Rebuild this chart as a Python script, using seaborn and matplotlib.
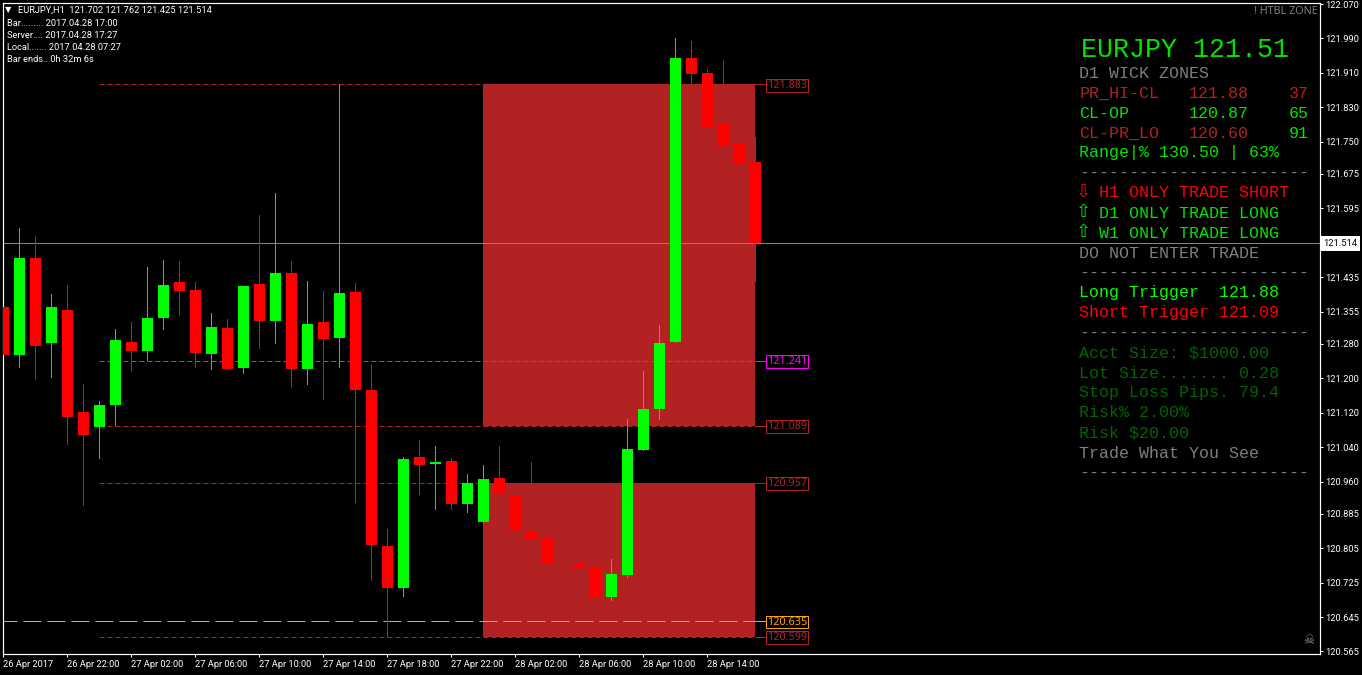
import matplotlib
matplotlib.use("Agg")
import matplotlib.pyplot as plt
import pandas as pd
import numpy as np
import seaborn as sns

opens = [121.366,121.254,121.480,121.282,121.359,121.122,121.087,121.138,121.284,121.263,
         121.340,121.424,121.405,121.256,121.317,121.224,121.419,121.333,121.445,121.222,
         121.331,121.294,121.401,121.173,120.810,120.712,121.017,121.001,121.008,120.908,
         120.866,120.968,120.926,120.845,120.829,120.771,120.768,120.761,120.692,120.743,
         121.033,121.129,121.284,121.945,121.910,121.791,121.745,121.702]
highs = [121.540,121.549,121.531,121.396,121.417,121.187,121.147,121.315,121.331,121.459,
         121.475,121.473,121.424,121.352,121.338,121.415,121.580,121.631,121.473,121.426,
         121.403,121.883,121.421,121.233,120.850,121.017,121.057,121.043,121.015,120.978,
         120.998,121.043,120.926,121.005,120.871,120.847,120.878,120.808,120.780,121.105,
         121.217,121.324,121.991,121.984,121.919,121.940,121.805,121.762]
lows = [121.124,121.226,121.198,121.203,121.047,120.905,121.015,121.091,121.217,121.242,
        121.315,121.347,121.226,121.222,121.222,121.212,121.270,121.282,121.180,121.187,
        121.152,121.226,120.912,120.731,120.599,120.694,120.931,120.896,120.896,120.889,
        120.866,120.931,120.759,120.752,120.687,120.747,120.740,120.692,120.685,120.738,
        121.033,121.105,121.284,121.840,121.693,121.687,121.612,121.425]
closes = [121.254,121.480,121.275,121.366,121.110,121.068,121.138,121.289,121.263,121.340,
          121.417,121.403,121.259,121.319,121.222,121.415,121.333,121.445,121.222,121.326,
          121.291,121.398,121.173,120.812,120.712,121.012,120.998,121.005,120.908,120.957,
          120.966,120.931,120.847,120.826,120.771,120.768,120.759,120.692,120.745,121.036,
          121.129,121.282,121.945,121.907,121.784,121.742,121.700,121.514]

price_ticks = [122.070,121.990,121.910,121.830,121.750,121.675,121.595,121.435,121.355,121.280,
               121.200,121.120,121.040,120.960,120.885,120.805,120.725,120.645,120.565]
time_ticks = [0,4,8,12,16,20,24,28,32,36,40,44]
time_labels = ["26 Apr 2017","26 Apr 22:00","27 Apr 02:00","27 Apr 06:00","27 Apr 10:00",
               "27 Apr 14:00","27 Apr 18:00","27 Apr 22:00","28 Apr 02:00","28 Apr 06:00",
               "28 Apr 10:00","28 Apr 14:00"]

zones = [(121.089,121.883),(120.599,120.957)]
level_prices = [121.883,121.241,121.089,120.957,120.635,120.599]
level_colors = ["#B22222","#FF00FF","#B22222","#B22222","#FFA500","#B22222"]

info_lines = ["Bar......... 2017.04.28 17:00","Server.... 2017.04.28 17:27",
              "Local....... 2017.04.28 07:27","Bar ends.. 0h 32m 6s"]

GRAY = "#7a7f85"
GREEN = "#00E400"
LIME = "#00FF00"
DARK = "#006400"
BRICK = "#B22222"
RED = "#FF0000"
DASHES = "-" * 23
# text, x pixel, colour - one row every 20 px
panel_rows = [("D1 WICK ZONES",1079,GRAY),("PR_HI-CL",1080,BRICK),("CL-OP",1079,GREEN),
              ("CL-PR_LO",1079,BRICK),("Range|% 130.50 | 63%",1079,GREEN),(DASHES,1079,GRAY),
              ("H1 ONLY TRADE SHORT",1099,RED),("D1 ONLY TRADE LONG",1099,GREEN),
              ("W1 ONLY TRADE LONG",1099,GREEN),("DO NOT ENTER TRADE",1079,GRAY),(DASHES,1079,GRAY),
              ("Long Trigger  121.88",1079,LIME),("Short Trigger 121.09",1079,RED),(DASHES,1079,GRAY),
              ("Acct Size: $1000.00",1079,DARK),("Lot Size....... 0.28",1079,DARK),
              ("Stop Loss Pips. 79.4",1079,DARK),("Risk% 2.00%",1079,DARK),("Risk $20.00",1079,DARK),
              ("Trade What You See",1079,GRAY),(DASHES,1079,GRAY)]
zone_cols = [("121.88","37",BRICK,"#D81010"),("120.87","65",GREEN,GREEN),("120.60","91",BRICK,GREEN)]

W, H = 1362, 675
sns.set_theme(style="dark", rc={"figure.facecolor":"black","axes.facecolor":"black",
                                "axes.edgecolor":"white","axes.grid":False,
                                "text.color":"white","xtick.color":"white","ytick.color":"white"})
plt.rcParams["font.family"] = ["Roboto","DejaVu Sans"]

df = pd.DataFrame({"bar":np.arange(len(opens)),"open":opens,"high":highs,"low":lows,"close":closes})
df["dir"] = np.where(df["close"] >= df["open"], "up", "down")
df["top"] = df[["open","close"]].max(axis=1)
df["bot"] = df[["open","close"]].min(axis=1)

fig = plt.figure(figsize=(W/100, H/100), dpi=100)
ax = fig.add_axes([2.5/W, 1-654/H, 1317/W, 651.5/H])

def px(x, y, s, **kw):
    kw.setdefault("va", "center")
    fig.text(x/W, 1-y/H, s, **kw)

# zones
for lo, hi in zones:
    ax.fill_between([30,47], lo, hi, color=BRICK, lw=0, zorder=1)

# levels
LW = 0.72
FS = 6.7
for p, c in zip(level_prices, level_colors):
    on_off = (18,6) if c == "#FFA500" else (5,3)
    start = -1 if c == "#FFA500" else 6
    sns.lineplot(x=[start,47], y=[p,p], color=c, lw=LW, ls=(0,on_off), ax=ax, zorder=1.5,
                 dash_capstyle="butt")
    sns.lineplot(x=[47,47.7], y=[p,p], color=c, lw=LW, ax=ax, zorder=1.5)
    ax.annotate("%.3f" % p, xy=(47.72,p), xytext=(0,-0.5), textcoords="offset points", color=c,
                fontsize=7.8, family="Noto Sans", ha="left", va="center", zorder=5,
                bbox=dict(boxstyle="square,pad=0.08", fc="black", ec=c, lw=LW))

ax.axhline(closes[-1], color="#778899", lw=LW, zorder=1.6)

# wicks
wicks = df.melt(id_vars=["bar","dir"], value_vars=["high","low"], value_name="price")
sns.lineplot(data=wicks, x="bar", y="price", hue="dir", units="bar", estimator=None,
             palette={"up":"#32CD32","down":"#D01515"}, lw=LW, legend=False, ax=ax, zorder=2,
             antialiased=False)

# bodies
for d, c in [("up",LIME),("down",RED)]:
    sub = df[df["dir"] == d]
    sns.barplot(x=sub["bar"].values, y=(sub["top"]-sub["bot"]).values, bottom=sub["bot"].values,
                native_scale=True, errorbar=None, color=c, saturation=1, width=0.69,
                linewidth=0, ax=ax, zorder=3)

ax.set_xlim(-0.05, 82.26)
ax.set_ylim(122.0793-0.0023245*654, 122.0793-0.0023245*2.5)
ax.set_xlabel("")
ax.set_ylabel("")
ax.yaxis.tick_right()
ax.set_yticks(price_ticks)
ax.set_yticklabels(["%.3f" % p for p in price_ticks], fontsize=FS)
ax.set_xticks(time_ticks)
ax.set_xticklabels(time_labels, fontsize=FS, ha="left")
ax.tick_params(axis="both", length=2.5, width=LW, pad=1.5, left=False, right=True, bottom=True)
ax.tick_params(axis="x", pad=1.5)
for s in ax.spines.values():
    s.set_visible(True)
    s.set_color("white")
    s.set_linewidth(LW*1.2)

# current price tag
px(1340.5, 243.5, "%.3f" % closes[-1], color="black", fontsize=FS, ha="center",
   bbox=dict(boxstyle="square,pad=0.3", fc="white", ec="white", lw=0))

# header
px(5, 10, "\u25bc", color="white", fontsize=6, family=["DejaVu Sans"])
px(18, 10, "EURJPY,H1  121.702 121.762 121.425 121.514", color="white", fontsize=FS)
for k, s in enumerate(info_lines):
    px(7, 23+12*k, s, color="white", fontsize=FS)
px(1318, 11, "! HTBL ZONE", color="#7f7f7f", fontsize=7.8, ha="right", weight="bold",
   family="Noto Sans")

# right panel
mono = ["Liberation Mono"]
px(1081, 57, "EURJPY 121.51", color=GREEN, fontsize=19.2, family=mono, va="baseline")
for k, (s, x, c) in enumerate(panel_rows):
    px(x, 77.5+20*k, s, color=c, fontsize=12, family=mono, va="baseline")
for k, (val, pct, c1, c2) in enumerate(zone_cols):
    px(1189, 97.5+20*k, val, color=c1, fontsize=12, family=mono, va="baseline")
    px(1289, 97.5+20*k, pct, color=c2, fontsize=12, family=mono, va="baseline")
px(1076, 192, "\u21e9", color=RED, fontsize=13, family=["DejaVu Sans"])
px(1076, 212, "\u21e7", color=GREEN, fontsize=13, family=["DejaVu Sans"])
px(1076, 232, "\u21e7", color=GREEN, fontsize=13, family=["DejaVu Sans"])
px(1303, 640, "\u2620", color="#8a8a8a", fontsize=9, family=["DejaVu Sans"])

fig.savefig("out.png", dpi=100, facecolor="black")
